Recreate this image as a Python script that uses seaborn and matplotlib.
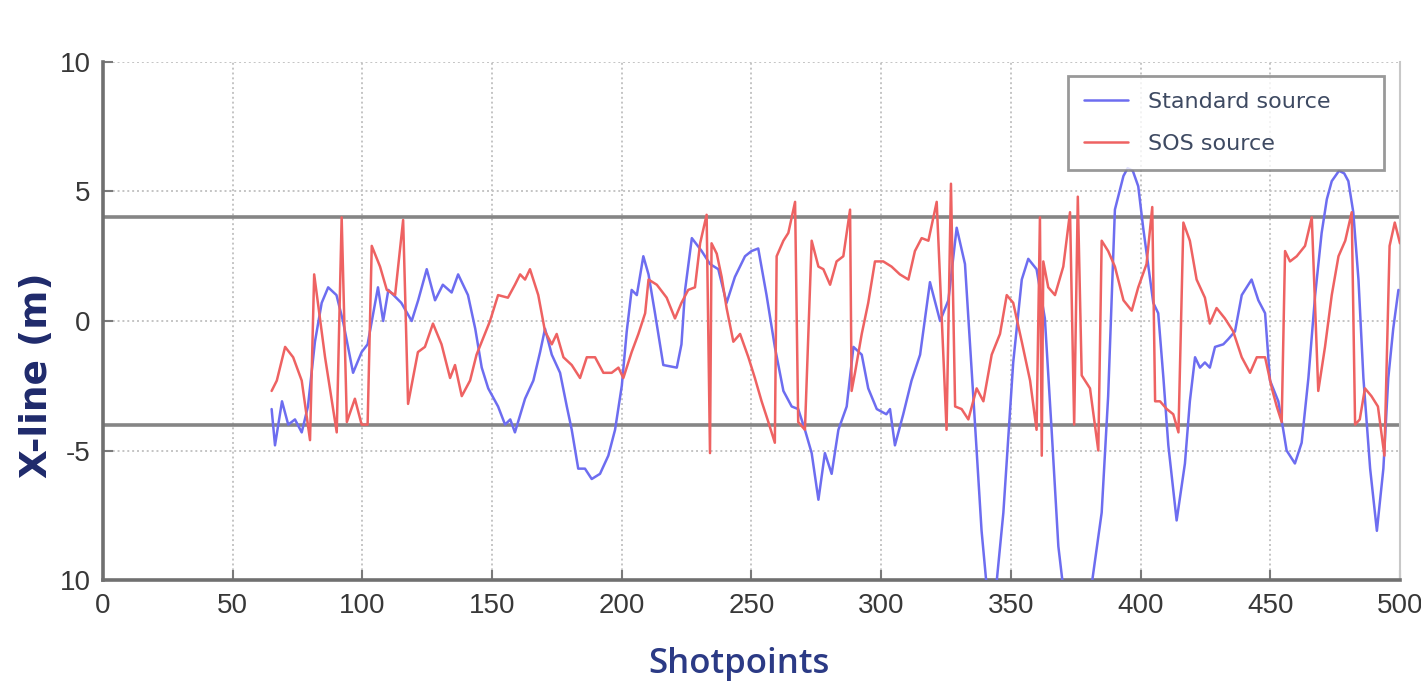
import matplotlib
matplotlib.use("Agg")
import matplotlib.pyplot as plt
import numpy as np
import pandas as pd
import seaborn as sns

# Cross-line (X-line) deviation per shotpoint, standard vs SOS source
std_shot = [65, 66.3, 69, 71.4, 74, 76.6, 79, 81.7, 84.3, 86.8, 90, 92.5, 96.4, 99.7,
            102, 106, 108, 110, 115, 119, 121.5, 124.8, 128, 131, 134.4, 136.9, 140.7,
            143.5, 146, 148.5, 152.3, 155, 157, 158.8, 162.7, 165.9, 168.5, 170.4, 173,
            176.2, 178.8, 180.7, 183.2, 185.8, 188.4, 191.6, 194.8, 197.4, 200, 201.9,
            203.8, 205.8, 208.3, 210.3, 212.8, 216, 221.2, 223, 224.4, 227, 230.8, 234,
            237.2, 240.4, 243.6, 247.5, 250, 252.6, 255.8, 259, 262.3, 265.5, 268, 270.6,
            273.2, 275.8, 278.3, 280.9, 283.5, 286.7, 289.3, 292.5, 295, 298.3, 302,
            303.4, 305.3, 308.5, 311.7, 315, 318.8, 322.7, 325.9, 329.1, 332.3, 335.5,
            338.7, 341, 344, 347.1, 350.9, 354.2, 356.7, 359.9, 363.1, 365.7, 368.3, 371,
            380, 385, 387.5, 390.1, 393.4, 395, 397, 399.1, 401, 403, 404.9, 406.8, 408.8,
            410.7, 413.9, 417.1, 419, 421, 422.9, 424.8, 426.7, 428.7, 431.9, 433.8,
            436.4, 439, 442.8, 445.4, 448, 449.9, 453.1, 455, 456.3, 459.5, 462.1, 464.7,
            467.3, 469.8, 471.8, 473.7, 476.5, 478.5, 480.1, 482, 484, 485.9, 488.5,
            491.1, 493.6, 495.5, 497.4, 499.4]
std_xline = [-3.4, -4.8, -3.1, -4.0, -3.8, -4.3, -3.3, -0.8, 0.7, 1.3, 1.0, 0.0, -2.0, -1.2,
             -0.9, 1.3, 0.0, 1.2, 0.7, 0.0, 0.8, 2.0, 0.8, 1.4, 1.1, 1.8, 1.0,
             -0.3, -1.8, -2.6, -3.3, -4.0, -3.8, -4.3, -3.0, -2.3, -1.2, -0.3, -1.3,
             -2.0, -3.3, -4.2, -5.7, -5.7, -6.1, -5.9, -5.2, -4.2, -2.5, -0.4,
             1.2, 1.0, 2.5, 1.8, 0.3, -1.7, -1.8, -0.9, 1.2, 3.2, 2.7, 2.2,
             2.0, 0.7, 1.7, 2.5, 2.7, 2.8, 1.0, -1.0, -2.7, -3.3, -3.4, -4.2,
             -5.1, -6.9, -5.1, -5.9, -4.2, -3.3, -1.0, -1.3, -2.6, -3.4, -3.6,
             -3.4, -4.8, -3.6, -2.3, -1.3, 1.5, 0.0, 0.8, 3.6, 2.2, -2.9,
             -8.1, -10.6, -10.6, -7.4, -1.6, 1.6, 2.4, 2.0, 0.1, -4.2, -8.7, -11.0,
             -11.0, -7.4, -2.9, 4.3, 5.6, 5.9, 5.8, 5.2, 3.6, 2.1, 0.7, 0.3, -2.2,
             -4.8, -7.7, -5.5, -3.1, -1.4, -1.8, -1.6, -1.8, -1.0, -0.9, -0.7,
             -0.4, 1.0, 1.6, 0.8, 0.3, -2.3, -3.1, -4.2, -5.0, -5.5, -4.7, -2.2,
             1.0, 3.4, 4.7, 5.4, 5.8, 5.7, 5.4, 4.2, 1.6, -2.2, -5.7,
             -8.1, -5.7, -2.2, -0.3, 1.2]

sos_shot = [65, 67, 70.2, 73.3, 76.6, 79.8, 81.4, 85.6, 90.1, 92, 94, 97.1, 99.7, 102,
            103.6, 106.8, 109.4, 112.6, 115.7, 117.6, 121.4, 124.1, 127.2, 130.5, 133.8,
            135.7, 138.3, 141.5, 144, 146, 149.2, 152.3, 156.1, 158.8, 160.8, 162.7,
            164.6, 167.8, 170.4, 173, 174.9, 177.5, 180.7, 183.9, 186.5, 189.7, 192.9,
            196.1, 198.7, 200.6, 203.8, 206.4, 209, 210.3, 213.5, 217.3, 220.5, 223,
            225.6, 228.2, 230.2, 232.7, 234, 234.6, 236.6, 238.5, 240.4, 243, 245.6,
            248.8, 251.3, 253.9, 256.5, 259, 259.7, 262.3, 264.2, 266.8, 268, 270.6,
            273.2, 275.8, 277.7, 280.3, 282.8, 285.4, 288, 288.6, 289.9, 292.5, 295,
            297.6, 300.8, 304, 307.2, 310.5, 313, 315.6, 318.2, 321.4, 325.2, 326.9,
            328.5, 331, 333.6, 336.8, 339.4, 342.6, 345.8, 348.4, 350.9, 354.2, 357.4,
            359.9, 361.2, 361.9, 362.5, 364.4, 367, 370.2, 372.8, 374.4, 375.8, 377.3,
            380.5, 383.7, 385, 387.5, 390.1, 393.4, 396.6, 399.1, 402.3, 404.5, 405.6,
            407.5, 410.1, 412.6, 414.6, 416.5, 419, 421.6, 424.8, 426.7, 429.3, 432.5,
            435.7, 439, 442.2, 444.8, 448, 450.6, 452.5, 454.4, 455.7, 457.6, 460.2,
            463.4, 466, 468.5, 471.1, 473.7, 476.3, 478.9, 481.4, 482.7, 484.5, 486.5,
            489, 491.5, 494, 496, 498, 500]
sos_xline = [-2.7, -2.3, -1.0, -1.4, -2.3, -4.6, 1.8, -1.4, -4.3, 4.0, -3.9, -3.0, -4.0, -4.0,
             2.9, 2.1, 1.2, 1.0, 3.9, -3.2, -1.2, -1.0, -0.1, -0.9, -2.2,
             -1.7, -2.9, -2.3, -1.3, -0.8, 0.0, 1.0, 0.9, 1.4, 1.8, 1.6,
             2.0, 1.0, -0.4, -0.9, -0.5, -1.4, -1.7, -2.2, -1.4, -1.4, -2.0,
             -2.0, -1.8, -2.2, -1.2, -0.5, 0.3, 1.6, 1.4, 0.9, 0.1, 0.7,
             1.2, 1.3, 3.0, 4.1, -5.1, 3.0, 2.6, 1.7, 0.5, -0.8, -0.5,
             -1.4, -2.2, -3.1, -3.9, -4.7, 2.5, 3.1, 3.4, 4.6, -3.9, -4.2,
             3.1, 2.1, 2.0, 1.4, 2.3, 2.5, 4.3, -2.7, -2.0, -0.5, 0.7,
             2.3, 2.3, 2.1, 1.8, 1.6, 2.7, 3.2, 3.1, 4.6, -4.2, 5.3,
             -3.3, -3.4, -3.8, -2.6, -3.1, -1.3, -0.5, 1.0, 0.7, -0.8, -2.3,
             -4.2, 4.0, -5.2, 2.3, 1.3, 1.0, 2.1, 4.2, -4.0, 4.8, -2.1,
             -2.6, -5.0, 3.1, 2.7, 2.1, 0.8, 0.4, 1.3, 2.2, 4.4, -3.1,
             -3.1, -3.4, -3.6, -4.3, 3.8, 3.1, 1.6, 0.9, -0.1, 0.5, 0.1,
             -0.4, -1.4, -2.0, -1.4, -1.4, -2.6, -3.3, -3.9, 2.7, 2.3, 2.5,
             2.9, 4.0, -2.7, -1.0, 1.0, 2.5, 3.1, 4.2, -4.0, -3.8, -2.6,
             -2.9, -3.3, -5.2, 2.9, 3.8, 3.0]

series_names = ["Standard source", "SOS source"]
series_colors = ["#6d6df0", "#ee6262"]
threshold_levels = [4, -4]

x_ticks = [0, 50, 100, 150, 200, 250, 300, 350, 400, 450, 500]
y_ticks = [10, 5, 0, -5, -10]
y_tick_labels = ["10", "5", "0", "-5", "10"]

df = pd.concat([
    pd.DataFrame({"Shotpoints": std_shot, "X-line": std_xline, "Source": series_names[0]}),
    pd.DataFrame({"Shotpoints": sos_shot, "X-line": sos_xline, "Source": series_names[1]}),
], ignore_index=True)

sns.set_theme(style="white")
plt.rcParams["font.family"] = ["Liberation Sans", "DejaVu Sans"]

fig = plt.figure(figsize=(14.21, 6.91), dpi=100)
ax = fig.add_axes([0.0725, 0.1606, 0.9127, 0.7497])

# grid first so the data sits on top
ax.grid(True, linestyle=(0, (1, 1.5)), color="#c4c4c4", linewidth=1.4)
ax.set_axisbelow(True)

for lvl in threshold_levels:
    ax.axhline(lvl, color="#858585", linewidth=2.6, zorder=1.5)

sns.lineplot(data=df, x="Shotpoints", y="X-line", hue="Source",
             hue_order=series_names, palette=series_colors,
             estimator=None, sort=False, linewidth=1.8, ax=ax, zorder=3)

ax.set_xlim(0, 500)
ax.set_ylim(-10, 10)
ax.set_xticks(x_ticks)
ax.set_xticklabels([str(t) for t in x_ticks])
ax.set_yticks(y_ticks)
ax.set_yticklabels(y_tick_labels)

ax.tick_params(axis="both", direction="in", length=7, width=1.5, color="#7a7a7a",
               labelsize=20, labelcolor="#383838")
ax.tick_params(axis="x", pad=9)
ax.tick_params(axis="y", pad=9)
ax.xaxis.set_ticks_position("bottom")
ax.yaxis.set_ticks_position("left")

for side in ["left", "bottom"]:
    ax.spines[side].set_color("#707070")
    ax.spines[side].set_linewidth(2.6)
ax.spines["top"].set_visible(False)
ax.spines["right"].set_color("#c8c8c8")
ax.spines["right"].set_linewidth(1.5)

ax.set_xlabel("Shotpoints", fontsize=25, fontweight="semibold", color="#2b3a85",
              family=["Open Sans", "DejaVu Sans"])
ax.xaxis.set_label_coords(0.49, -0.13)
ax.set_ylabel("X-line (m)", fontsize=27, fontweight="bold", color="#1f2a6b",
              family=["DejaVu Sans"])
ax.yaxis.set_label_coords(-0.037, 0.396)

leg = ax.legend(loc="upper left", bbox_to_anchor=(0.744, 0.972, 0.244, 0.0),
                mode="expand", frameon=True, fancybox=False,
                handlelength=2.0, handletextpad=0.9,
                labelspacing=1.0, borderpad=0.7, borderaxespad=0.0,
                prop={"family": "DejaVu Sans", "size": 16})
leg.get_frame().set_edgecolor("#808080")
leg.get_frame().set_linewidth(2.0)
leg.get_frame().set_facecolor("white")
for txt in leg.get_texts():
    txt.set_color("#3e4a62")
leg.set_zorder(5)

fig.savefig("out.png", dpi=100, facecolor="white")
